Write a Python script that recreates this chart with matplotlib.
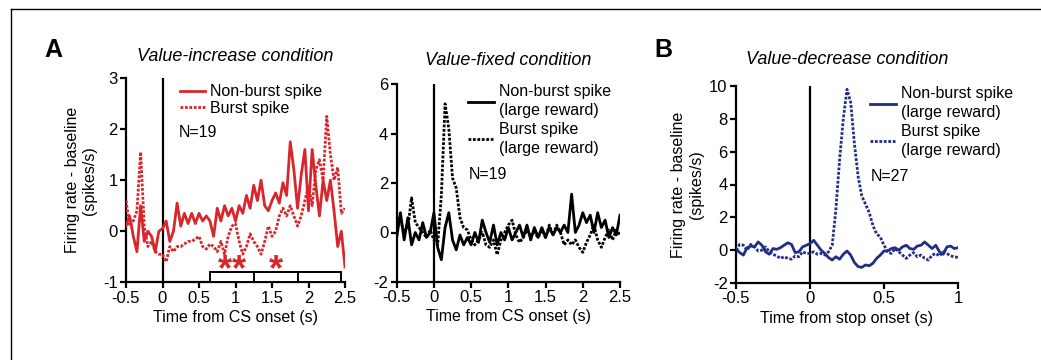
import numpy as np
import matplotlib
matplotlib.use("Agg")
import matplotlib.pyplot as plt
from matplotlib.patches import Rectangle
from matplotlib.lines import Line2D

plt.rcParams['font.family'] = ['Liberation Sans', 'DejaVu Sans']
plt.rcParams['axes.unicode_minus'] = False

# ---- data ----
t_cs = np.round(np.arange(-0.5, 2.5001, 0.05), 3)   # 61 bins, 50 ms
t_stop = np.round(np.arange(-0.5, 1.0001, 0.025), 3)  # 61 bins, 25 ms

inc_nonburst = [0.1, 0.3, -0.1, -0.4, 0.5, -0.2, 0.0, -0.1, -0.4, 0.0,
                0.05, 0.2, -0.2, 0.0, 0.55, 0.1, 0.35, 0.15, 0.35, 0.15,
                0.35, 0.2, 0.3, 0.2, -0.1, 0.45, 0.2, 0.5, 0.3, 0.45,
                0.2, 0.5, 0.35, 0.7, 0.45, 0.9, 0.6, 1.0, 0.5, 0.4,
                0.6, 0.75, 0.55, 0.95, 0.7, 1.75, 1.2, 0.45, 1.1, 1.6,
                0.4, 1.6, 0.9, 0.3, 1.0, 0.6, 1.0, 0.4, -0.3, 0.0, -0.7]
inc_burst = [0.6, 0.1, 0.2, 0.4, 1.55, 0.1, -0.3, -0.2, -0.4, -0.45,
             -0.45, -0.6, -0.3, -0.4, -0.3, -0.3, -0.25, -0.2, -0.2, -0.15,
             -0.1, -0.3, -0.35, -0.25, -0.3, -0.4, -0.2, -0.45, -0.1, 0.1,
             0.15, -0.2, -0.45, -0.3, -0.05, -0.2, -0.3, -0.45, -0.2, 0.1,
             -0.1, 0.0, 0.3, 0.45, 0.3, 0.5, 0.3, 0.1, 0.3, 0.6,
             0.9, 0.5, 1.2, 1.4, 1.0, 2.25, 1.5, 1.0, 1.25, 0.35, 0.45]

fix_nonburst = [-0.2, 0.8, -0.3, 0.6, -0.5, 0.0, -0.3, 0.4, -0.2, 0.0,
                0.8, -0.6, -1.1, 0.2, 0.8, -0.3, -0.7, -0.1, -0.5, -0.2,
                -0.5, 0.0, -0.4, 0.5, 0.0, -0.4, 0.3, -0.5, 0.0, -0.3,
                0.2, -0.3, 0.0, 0.3, -0.2, 0.3, -0.3, 0.2, -0.2, 0.2,
                -0.2, 0.2, -0.1, 0.2, 0.0, 0.3, 0.0, 1.55, 0.0, 0.3,
                0.8, 0.4, 0.7, 0.0, 0.8, 0.2, 0.5, -0.2, 0.2, -0.1, 0.7]
fix_burst = [0.6, 0.5, 0.0, 0.2, 1.4, 0.4, 0.2, 0.0, -0.2, 0.1,
             -0.3, -0.5, 1.5, 5.2, 4.2, 2.2, 1.8, 0.6, 0.2, 0.1,
             -0.3, -0.5, -0.3, 0.0, -0.5, -0.6, -0.3, -0.9, -0.3, 0.0,
             0.3, 0.5, -0.1, -0.4, -0.2, 0.1, -0.1, 0.0, -0.2, 0.1,
             -0.2, 0.3, -0.1, 0.3, 0.0, -0.5, -0.3, -0.5, -0.3, -0.6,
             -0.8, -0.4, -0.1, 0.3, -0.3, -0.6, -0.2, 0.1, -0.3, 0.1, -0.1]

dec_nonburst = [0.1, -0.15, -0.3, 0.15, 0.25, 0.2, 0.5, 0.3, -0.1, -0.25,
                0.1, 0.05, 0.15, 0.3, 0.45, 0.35, -0.15, -0.1, 0.2, 0.3,
                0.4, 0.6, 0.3, 0.0, -0.2, -0.45, -0.6, -0.4, -0.55, -0.25,
                -0.05, -0.3, -0.75, -1.0, -1.05, -0.9, -0.95, -0.8, -0.5, -0.3,
                -0.05, -0.05, 0.1, 0.15, 0.0, 0.2, 0.3, 0.1, 0.05, 0.25,
                0.3, 0.5, 0.3, 0.1, 0.3, -0.1, -0.25, 0.2, 0.25, 0.1, 0.15]
dec_burst = [0.0, 0.35, 0.3, 0.0, 0.35, 0.2, -0.05, 0.0, 0.2, -0.1,
             -0.25, -0.35, -0.5, -0.4, -0.5, -0.55, -0.35, -0.4, -0.1, -0.2,
             -0.2, -0.1, -0.25, -0.2, -0.3, -0.1, 0.3, 2.5, 5.5, 8.0,
             9.8, 9.0, 6.5, 4.5, 3.3, 2.8, 2.3, 1.5, 1.0, 0.8,
             0.3, -0.1, -0.2, 0.1, -0.1, -0.3, -0.5, -0.3, -0.15, -0.4,
             -0.3, -0.5, -0.6, -0.3, -0.2, -0.35, -0.1, -0.2, -0.35, -0.4, -0.45]

epoch_edges = [0.65, 1.25, 1.85, 2.45]
star_times = [0.85, 1.05, 1.55]

RED = '#d8262c'
BLUE = '#222d86'
FS = 11.5      # axis labels, legend
TFS = 12       # tick labels

fig = plt.figure(figsize=(10.41, 3.6), dpi=100)
W, H = 1041.0, 360.0


def make_axes(l, r, top, bot):
    return fig.add_axes([l / W, 1 - bot / H, (r - l) / W, (bot - top) / H])


def style(ax, xlim, ylim, xticks, yticks, xlabels, ylabels):
    for s in ['top', 'right']:
        ax.spines[s].set_visible(False)
    for s in ['left', 'bottom']:
        ax.spines[s].set_linewidth(1.6)
    ax.set_xlim(xlim)
    ax.set_ylim(ylim)
    ax.set_xticks(xticks)
    ax.set_xticklabels(xlabels)
    ax.set_yticks(yticks)
    ax.set_yticklabels(ylabels)
    ax.tick_params(direction='out', length=4, width=1.6, labelsize=TFS, pad=2)
    ax.axvline(0, color='black', lw=1.6, zorder=1)


def add_legend(ax, x, y, spacing):
    leg = ax.legend(loc='upper left', bbox_to_anchor=(x, y), frameon=False,
                    fontsize=FS, handlelength=1.6, handletextpad=0.3, borderpad=0,
                    borderaxespad=0, labelspacing=spacing)
    for txt in leg.get_texts():
        txt.set_linespacing(1.35)
    return leg


ax1 = make_axes(126, 345, 78, 282.3)
ax2 = make_axes(396.7, 620, 84, 282)
ax3 = make_axes(736, 958, 86, 283)

cs_ticks = [-0.5, 0, 0.5, 1, 1.5, 2, 2.5]
cs_labels = ['-0.5', '0', '0.5', '1', '1.5', '2', '2.5']

# panel A, value-increase
ax1.plot(t_cs, inc_nonburst, color=RED, lw=2, label='Non-burst spike', zorder=3)
ax1.plot(t_cs, inc_burst, color=RED, lw=2, ls=(0, (1, 0.6)), label='Burst spike', zorder=3)
style(ax1, (-0.5, 2.5), (-1, 3), cs_ticks, [-1, 0, 1, 2, 3], cs_labels,
      ['-1', '0', '1', '2', '3'])
for a, b in zip(epoch_edges[:-1], epoch_edges[1:]):
    ax1.add_patch(Rectangle((a, -1), b - a, 0.2, facecolor='white',
                            edgecolor='black', lw=1.4, zorder=4, clip_on=False))
for st in star_times:
    ax1.text(st, -0.96, '*', color=RED, fontsize=26, fontweight='bold',
             ha='center', va='baseline', zorder=5)
ax1.set_xlabel('Time from CS onset (s)', fontsize=FS, labelpad=3)
ax1.set_ylabel('Firing rate - baseline\n(spikes/s)', fontsize=FS, labelpad=4)
ax1.set_title('Value-increase condition', fontsize=13, style='italic', pad=12)
add_legend(ax1, 0.245, 0.97, 0.12)
ax1.text(0.239, 0.735, 'N=19', transform=ax1.transAxes, fontsize=FS, va='center')

# value-fixed
ax2.plot(t_cs, fix_nonburst, color='black', lw=2,
         label='Non-burst spike\n(large reward)', zorder=3)
ax2.plot(t_cs, fix_burst, color='black', lw=2, ls=(0, (1, 0.6)),
         label='Burst spike\n(large reward)', zorder=3)
style(ax2, (-0.5, 2.5), (-2, 6), cs_ticks, [-2, 0, 2, 4, 6], cs_labels,
      ['-2', '0', '2', '4', '6'])
ax2.set_xlabel('Time from CS onset (s)', fontsize=FS, labelpad=3)
ax2.set_title('Value-fixed condition', fontsize=13, style='italic', pad=14)
add_legend(ax2, 0.32, 1.0, 0.22)
ax2.text(0.321, 0.545, 'N=19', transform=ax2.transAxes, fontsize=FS, va='center')

# panel B, value-decrease
ax3.plot(t_stop, dec_nonburst, color=BLUE, lw=2,
         label='Non-burst spike\n(large reward)', zorder=3)
ax3.plot(t_stop, dec_burst, color=BLUE, lw=2, ls=(0, (1, 0.6)),
         label='Burst spike\n(large reward)', zorder=3)
style(ax3, (-0.5, 1), (-2, 10), [-0.5, 0, 0.5, 1], [-2, 0, 2, 4, 6, 8, 10],
      ['-0.5', '0', '0.5', '1'], ['-2', '0', '2', '4', '6', '8', '10'])
ax3.set_xlabel('Time from stop onset (s)', fontsize=FS, labelpad=3)
ax3.set_ylabel('Firing rate - baseline\n(spikes/s)', fontsize=FS, labelpad=4)
ax3.set_title('Value-decrease condition', fontsize=13, style='italic', pad=16)
add_legend(ax3, 0.605, 1.0, 0.22)
ax3.text(0.608, 0.543, 'N=27', transform=ax3.transAxes, fontsize=FS, va='center')

# panel letters
fig.text(44 / W, 1 - 50 / H, 'A', fontsize=18, fontweight='bold', va='center')
fig.text(654 / W, 1 - 50 / H, 'B', fontsize=18, fontweight='bold', va='center')

# thin frame at top-left (crop of the page)
fig.add_artist(Line2D([11 / W, 1], [1 - 9 / H, 1 - 9 / H], color='black', lw=1))
fig.add_artist(Line2D([11 / W, 11 / W], [0, 1 - 9 / H], color='black', lw=1))

fig.savefig('out.png', dpi=100)
